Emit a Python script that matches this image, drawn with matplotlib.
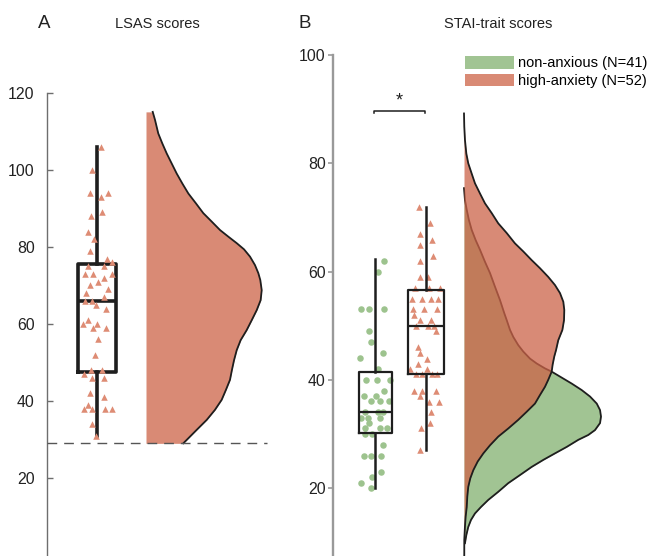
import numpy as np
import matplotlib
matplotlib.use("Agg")
import matplotlib.pyplot as plt
from matplotlib.patches import Patch

plt.rcParams['font.family'] = ['Liberation Sans', 'DejaVu Sans']

# ---------------- data ----------------
# Panel A: LSAS scores (high-anxiety group)
lsas_scores = [106, 100, 94, 94, 93, 89, 88, 84, 82, 79, 77, 76, 75, 75, 73, 73, 73, 72,
               71, 70, 69, 68, 67, 66, 66, 65, 64, 60, 61, 60, 59, 59, 56, 52, 48, 48,
               47, 46, 46, 42, 41, 39, 38, 38, 38, 38, 34, 31]
lsas_jitter = [4, -5, -7, 11, 4, 5, -6, -9, -3, -7, 10, 15, -9, 7, -12, -4, 15, 7,
               1, -7, 11, -11, 7, -12, -5, -1, 9, -14, -9, 0, -4, 9, 1, -2, -6, 5,
               -13, -5, 7, -7, 7, -9, -13, -5, 8, 15, -5, -1]
lsas_box = dict(q1=47.5, med=66.0, q3=75.7, whislo=31.0, whishi=106.0)
lsas_cutoff = 29.0
lsas_kde_levels = [115.1, 113.0, 109.5, 106.9, 104.3, 101.7, 99.1, 96.5, 93.9, 91.4,
                   88.8, 86.6, 84.4, 82.7, 81.0, 79.4, 77.5, 75.3, 73.2, 71.4,
                   68.8, 66.2, 63.6, 61.0, 58.4, 55.8, 53.2, 50.6, 48.1, 45.5,
                   42.9, 40.3, 37.7, 35.1, 32.5, 29.9, 29.0]
lsas_kde_density = [0.058, 0.078, 0.106, 0.141, 0.179, 0.222, 0.265, 0.314, 0.366, 0.430,
                    0.495, 0.568, 0.640, 0.711, 0.784, 0.847, 0.899, 0.942, 0.971, 0.988,
                    1.000, 0.991, 0.957, 0.914, 0.870, 0.818, 0.784, 0.761, 0.743, 0.726,
                    0.691, 0.654, 0.596, 0.525, 0.438, 0.352, 0.322]

# Panel B: STAI-trait scores
groups = ['non-anxious (N=41)', 'high-anxiety (N=52)']
stai_non = [62, 60, 53, 53, 53, 49, 47, 45, 44, 42, 40, 40, 40, 38, 37, 37, 36, 36, 36,
            34, 34, 34, 33, 33, 33, 32, 31, 31, 31, 30, 30, 28, 26, 26, 26, 23, 22, 21, 20]
stai_non_jitter = [9, 3, -14, -6, 9, -6, -4, 8, -15, 3, -9, 2, 15, 9, -11, 1, -4, 5, 14,
                   -10, 3, 8, -14, -7, 5, -6, -10, 5, 12, -10, -3, 8, -11, -4, 6, 6, -3, -14, -4]
stai_high = [72.0, 68.9, 66.9, 65.9, 64.9, 62.9, 61.9, 58.9, 58.9, 57, 57, 57, 55, 55, 55, 55,
             53, 53, 53, 52, 51, 51, 50, 50, 50, 49, 46, 44.9, 43.9, 42.9, 41.9, 41.9,
             41, 41, 41, 41, 38, 38, 38, 37, 35.9, 35.9, 34, 32, 31, 27]
stai_high_jitter = [-7, 4, -6, 6, -6, 7, -6, -6, 2, -11, 3, 14, -14, -4, 5, 12,
                    -13, -2, 11, -12, -6, 5, -10, 2, 8, 10, -8, -6, 1, -8, -16, 1,
                    -10, -4, 6, 11, -12, -4, 10, -6, 3, 13, 5, 4, -5, -6]
stai_non_box = dict(q1=30.1, med=34.0, q3=41.5, whislo=20.0, whishi=62.4)
stai_high_box = dict(q1=41.0, med=50.0, q3=56.6, whislo=27.0, whishi=72.0)
stai_sig_level = 89.6

stai_non_levels = [75.4, 73.2, 71.4, 69.5, 67.7, 65.8, 64.0, 61.8, 59.7, 57.2, 54.7, 52.3,
                   51.0, 49.2, 47.9, 46.4, 45.2, 43.9, 43.0, 42.1, 41.5, 40.4, 39.3, 38.1,
                   36.9, 35.6, 34.4, 33.2, 32.0, 30.7, 29.8, 28.9, 27.6, 26.4, 25.2, 23.9,
                   22.4, 20.9, 19.3, 17.8, 16.5, 15.3, 14.1, 12.8, 11.3, 9.8]
stai_non_density = [0.0, 0.007, 0.020, 0.036, 0.056, 0.085, 0.117, 0.153, 0.190, 0.226, 0.263, 0.294,
                    0.312, 0.336, 0.360, 0.396, 0.433, 0.482, 0.531, 0.591, 0.640, 0.713, 0.786, 0.859,
                    0.920, 0.969, 0.993, 1.000, 0.993, 0.956, 0.907, 0.834, 0.750, 0.664, 0.579, 0.494,
                    0.409, 0.323, 0.250, 0.177, 0.124, 0.080, 0.051, 0.031, 0.017, 0.007]
stai_high_levels = [89.2, 86.8, 84.3, 81.8, 80.0, 78.1, 76.3, 74.4, 72.6, 70.8, 68.9, 67.1,
                    65.2, 63.7, 62.1, 60.6, 59.0, 57.5, 56.0, 54.4, 52.9, 51.0, 49.2, 47.3,
                    45.5, 44.3, 42.8, 41.5, 40.0, 38.7, 37.2, 35.6, 34.1, 32.6, 31.0, 29.5,
                    27.9, 26.4, 24.9, 23.3, 21.8, 20.2, 18.4, 16.5, 14.7, 12.9, 10.4, 7.9, 4.0]
stai_high_density = [0.0, 0.002, 0.007, 0.017, 0.031, 0.056, 0.080, 0.117, 0.153, 0.202, 0.250, 0.312,
                     0.372, 0.433, 0.494, 0.555, 0.615, 0.664, 0.701, 0.725, 0.732, 0.730, 0.718, 0.688,
                     0.672, 0.659, 0.647, 0.640, 0.615, 0.591, 0.555, 0.518, 0.458, 0.396, 0.323, 0.250,
                     0.190, 0.141, 0.100, 0.068, 0.046, 0.031, 0.024, 0.020, 0.012, 0.007, 0.002, 0.002,
                     0.0]

# ---------------- style ----------------
RED = '#D98A75'
RED_T = (204/255, 99/255, 72/255)
GREEN = '#A1C493'
TRI = '#DE8C74'
DOT = '#9DC38E'
DARK = '#1E1E1E'

W, H = 649, 556
fig = plt.figure(figsize=(W/100, H/100), dpi=100)


def add_ax(x0, ytop, x1, ybot):
    return fig.add_axes([x0/W, 1 - ybot/H, (x1 - x0)/W, (ybot - ytop)/H])


def clean(ax):
    for s in ('top', 'right', 'bottom'):
        ax.spines[s].set_visible(False)
    ax.set_xticks([])

# ---------------- Panel A ----------------
axA = add_ax(47, 93, 287, 556)
axA.set_xlim(0, 240)
axA.set_ylim(-0.26, 120)
clean(axA)
axA.spines['left'].set_color('#6E6E6E')
axA.spines['left'].set_linewidth(1.0)
axA.set_yticks([20, 40, 60, 80, 100, 120])
axA.tick_params(axis='y', direction='in', length=4.5, width=1.0, color='#6E6E6E',
                labelsize=11.4, labelcolor='#222222', pad=9)

box_cA = 50
bstat = dict(lsas_box, fliers=[])
axA.bxp([bstat], positions=[box_cA], widths=38, showcaps=False, showfliers=False,
        boxprops=dict(color=DARK, linewidth=2.6),
        medianprops=dict(color=DARK, linewidth=2.6),
        whiskerprops=dict(color=DARK, linewidth=2.6), manage_ticks=False)
axA.scatter(box_cA + np.array(lsas_jitter), lsas_scores, marker='^', s=22,
            color=TRI, linewidths=0, zorder=4)

baseA = 99
scaleA = 115.7
levA = np.array(lsas_kde_levels)
denA = np.array(lsas_kde_density)
axA.fill_betweenx(levA, baseA, baseA + scaleA * denA, color=RED, linewidth=0, zorder=1)
axA.plot(baseA + scaleA * denA, levA, color=DARK, linewidth=1.3, zorder=2,
         solid_joinstyle='round')
axA.plot([0, 220], [lsas_cutoff, lsas_cutoff], color='#555555', linewidth=1.0,
         dashes=(7, 5), zorder=3)

# ---------------- Panel B ----------------
axB = add_ax(333, 55, 649, 556)
axB.set_xlim(0, 316)
axB.set_ylim(7.44, 100)
clean(axB)
axB.spines['left'].set_color('#999999')
axB.spines['left'].set_linewidth(1.7)
axB.set_yticks([20, 40, 60, 80, 100])
axB.tick_params(axis='y', direction='out', length=3.8, width=1.2, color='#999999',
                labelsize=11.4, labelcolor='#222222', pad=1.5)

cN, cH = 42, 93
axB.scatter(cN + np.array(stai_non_jitter), stai_non, marker='o', s=22,
            color=DOT, linewidths=0, zorder=2)
axB.scatter(cH + np.array(stai_high_jitter), stai_high, marker='^', s=22,
            color=TRI, linewidths=0, zorder=2)
axB.bxp([dict(stai_non_box, fliers=[])], positions=[cN], widths=33, showcaps=False,
        showfliers=False, boxprops=dict(color=DARK, linewidth=1.6),
        medianprops=dict(color=DARK, linewidth=1.6),
        whiskerprops=dict(color=DARK, linewidth=1.8), manage_ticks=False)
axB.bxp([dict(stai_high_box, fliers=[])], positions=[cH], widths=36, showcaps=False,
        showfliers=False, boxprops=dict(color=DARK, linewidth=1.6),
        medianprops=dict(color=DARK, linewidth=1.6),
        whiskerprops=dict(color=DARK, linewidth=1.8), manage_ticks=False)

# significance bar
x1s, x2s = 41, 92
axB.plot([x1s, x1s, x2s, x2s], [stai_sig_level - 0.3, stai_sig_level, stai_sig_level,
                                 stai_sig_level - 0.3], color=DARK, linewidth=1.1)
axB.text((x1s + x2s) / 2, stai_sig_level + 0.3, '*', ha='center', va='bottom',
         fontsize=13, color=DARK)

baseB = 131
scaleB = 137
levN = np.array(stai_non_levels)
denN = np.array(stai_non_density)
levH = np.array(stai_high_levels)
denH = np.array(stai_high_density)
axB.fill_betweenx(levN, baseB, baseB + scaleB * denN, color=GREEN, linewidth=0, zorder=1)
axB.plot(baseB + scaleB * denN, levN, color=DARK, linewidth=1.3, zorder=1.5,
         solid_joinstyle='round')
axB.fill_betweenx(levH, baseB, baseB + scaleB * denH, color=RED_T, alpha=0.75,
                  linewidth=0, zorder=2)
axB.plot(baseB + scaleB * denH, levH, color=DARK, linewidth=1.3, zorder=2.5,
         solid_joinstyle='round')

handles = [Patch(facecolor=GREEN, edgecolor='none'), Patch(facecolor=RED, edgecolor='none')]
fig.legend(handles, groups, loc='upper left', bbox_to_anchor=(465/W, 1 - 56/H),
           frameon=False, fontsize=10.5, handlelength=3.36, handleheight=0.96,
           handletextpad=0.25, labelspacing=0.22, borderpad=0, borderaxespad=0)

# titles
fig.text(38/W, 1 - 23/H, 'A', fontsize=13.5, ha='left', va='center', color='#222222')
fig.text(157/W, 1 - 24/H, 'LSAS scores', fontsize=10.5, ha='center', va='center', color='#222222')
fig.text(299/W, 1 - 23/H, 'B', fontsize=13.5, ha='left', va='center', color='#222222')
fig.text(498/W, 1 - 24/H, 'STAI-trait scores', fontsize=10.5, ha='center', va='center',
         color='#222222')

fig.savefig('out.png', dpi=100)
